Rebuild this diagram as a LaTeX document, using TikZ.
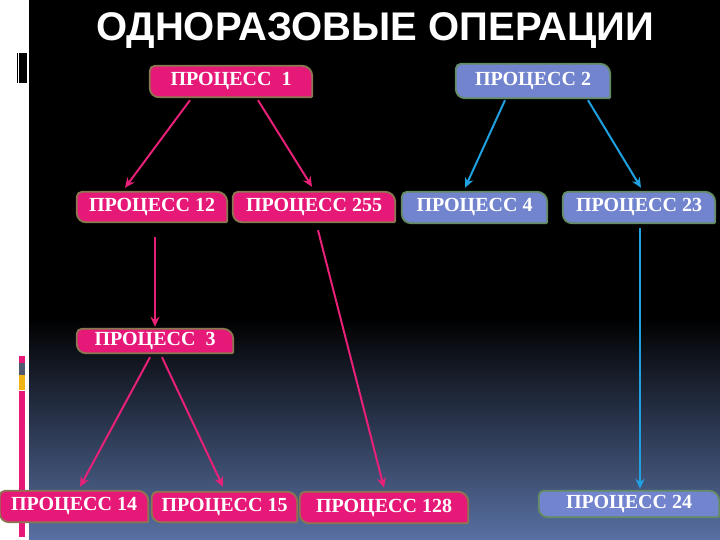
\documentclass[tikz,border=0pt]{standalone}
\usepackage{fontspec}
\setmainfont{Liberation Serif}
\newfontfamily\titlefont{Liberation Sans}
\usetikzlibrary{arrows.meta}

\definecolor{pinkfill}{RGB}{230,24,120}
\definecolor{pinkedge}{RGB}{140,120,80}
\definecolor{bluefill}{RGB}{114,132,206}
\definecolor{blueedge}{RGB}{100,140,100}
\definecolor{pinkline}{RGB}{232,32,120}
\definecolor{blueline}{RGB}{30,160,225}
\definecolor{bgbottom}{RGB}{88,112,162}
\definecolor{stripgray}{RGB}{80,90,110}
\definecolor{stripyellow}{RGB}{240,180,20}

\pgfdeclarelayer{background}
\pgfsetlayers{background,main}

% box with unequal corners, drawn behind node #1
\newcommand\procbox[3]{%
  \path[fill=#2, draw=#3, line width=1.8pt]
    ([yshift=-5pt]#1.north west) arc[start angle=180, end angle=90, radius=5pt]
    -- ([xshift=-10pt]#1.north east) arc[start angle=90, end angle=0, radius=10pt]
    -- ([yshift=1pt]#1.south east) arc[start angle=0, end angle=-90, radius=1pt]
    -- ([xshift=9pt]#1.south west) arc[start angle=270, end angle=180, radius=9pt]
    -- cycle;}

\tikzset{
  proc/.style={inner sep=0pt, text=white, font=\bfseries\fontsize{20}{20}\selectfont},
  pinkarrow/.style={pinkline, line width=2pt, -{Stealth[length=10pt,width=9pt]}},
  bluearrow/.style={blueline, line width=2pt, -{Stealth[length=10pt,width=9pt]}}
}

\begin{document}
\begin{tikzpicture}[x=1pt, y=-1pt]
  \useasboundingbox (0,0) rectangle (720,540);

  \begin{pgfonlayer}{background}
    \shade[top color=black, bottom color=bgbottom] (0,318) rectangle (720,540);
    \fill[black] (0,0) rectangle (720,320);
    \fill[white] (0,0) rectangle (28.5,540);
    % left decorations
    \fill[black] (17,53) rectangle (27,83);
    \draw[white, line width=0.8pt] (18.8,53) -- (18.8,83);
    \fill[pinkfill] (19,356) rectangle (25,363);
    \fill[stripgray] (19,363) rectangle (25,375);
    \fill[stripyellow] (19,375) rectangle (25,390);
    \fill[pinkfill] (19,391) rectangle (25,537);
  \end{pgfonlayer}

  \node[text=white, font=\titlefont\bfseries\fontsize{40}{40}\selectfont] (title) at (375,31) {ОДНОРАЗОВЫЕ ОПЕРАЦИИ};

  \node[proc, minimum width=162pt, minimum height=31pt] (p1) at (231,81.5) {ПРОЦЕСС\ \ 1};
  \node[proc, minimum width=154pt, minimum height=34pt] (p2) at (533,81) {ПРОЦЕСС 2};
  \node[proc, minimum width=150pt, minimum height=30pt] (p12) at (152,207) {ПРОЦЕСС 12};
  \node[proc, minimum width=162pt, minimum height=30pt] (p255) at (314,207) {ПРОЦЕСС 255};
  \node[proc, minimum width=145pt, minimum height=31pt] (p4) at (474.5,207.5) {ПРОЦЕСС 4};
  \node[proc, minimum width=152pt, minimum height=31pt] (p23) at (639,207.5) {ПРОЦЕСС 23};
  \node[proc, minimum width=156pt, minimum height=24pt] (p3) at (155,341) {ПРОЦЕСС\ \ 3};
  \node[proc, minimum width=148pt, minimum height=31pt] (p14) at (74,506.5) {ПРОЦЕСС 14};
  \node[proc, minimum width=145pt, minimum height=30pt] (p15) at (224.5,507) {ПРОЦЕСС 15};
  \node[proc, minimum width=168pt, minimum height=31pt] (p128) at (384,507.5) {ПРОЦЕСС 128};
  \node[proc, minimum width=180pt, minimum height=26pt] (p24) at (629,504) {ПРОЦЕСС 24};

  \begin{pgfonlayer}{background}
    \foreach \n in {p1,p12,p255,p3,p14,p15,p128}
      \procbox{\n}{pinkfill}{pinkedge};
    \foreach \n in {p2,p4,p23,p24}
      \procbox{\n}{bluefill}{blueedge};
  \end{pgfonlayer}

  \draw[pinkarrow] ([xshift=-41pt,yshift=-3pt]p1.south) -- ([xshift=-27pt,yshift=4pt]p12.north);
  \draw[pinkarrow] ([xshift=27pt,yshift=-3pt]p1.south) -- ([xshift=-2pt,yshift=5pt]p255.north);
  \draw[bluearrow] ([xshift=-28pt,yshift=-2pt]p2.south) -- ([xshift=-9.5pt,yshift=4pt]p4.north);
  \draw[bluearrow] ([xshift=55pt,yshift=-2pt]p2.south) -- ([xshift=2pt,yshift=4pt]p23.north);
  \draw[pinkarrow] ([xshift=3pt,yshift=-15pt]p12.south) -- ([yshift=2pt]p3.north);
  \draw[pinkarrow] ([xshift=4pt,yshift=-8pt]p255.south) -- ([yshift=4pt]p128.north);
  \draw[pinkarrow] ([xshift=-5pt,yshift=-4pt]p3.south) -- ([xshift=6pt,yshift=4pt]p14.north);
  \draw[pinkarrow] ([xshift=7pt,yshift=-4pt]p3.south) -- ([xshift=-1.5pt,yshift=5pt]p15.north);
  \draw[bluearrow] ([xshift=1pt,yshift=-5pt]p23.south) -- ([xshift=11pt,yshift=2pt]p24.north);
\end{tikzpicture}
\end{document}
